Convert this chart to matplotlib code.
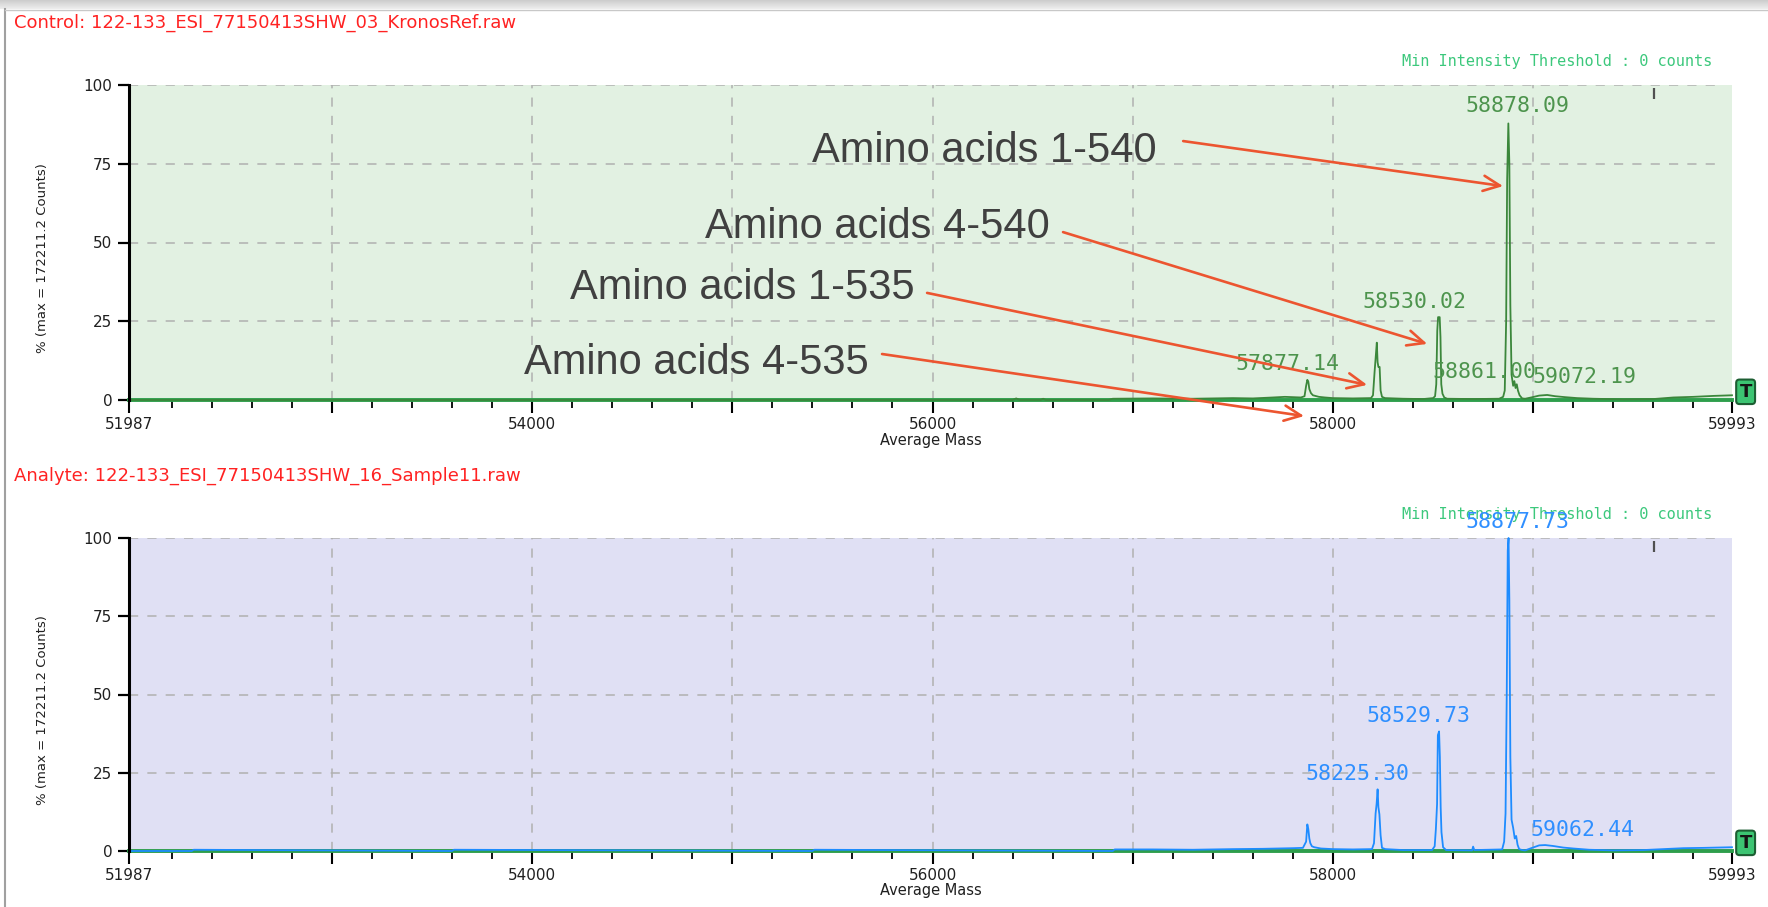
import numpy as np
import matplotlib
matplotlib.use('Agg')
import matplotlib.pyplot as plt
from matplotlib.lines import Line2D
from matplotlib.ticker import FixedLocator

# mass axis range of both panels
xmin, xmax = 51987, 59993
major_ticks = [51987, 53000, 54000, 55000, 56000, 57000, 58000, 59000, 59993]
major_labels = ['51987', '', '54000', '', '56000', '', '58000', '', '59993']
grid_masses = [53000, 54000, 55000, 56000, 57000, 58000, 59000]
y_ticks = [0, 25, 50, 75, 100]

# control spectrum
ctrl_mass = [51987, 56400, 56418, 56436, 56540, 56553, 56566, 56880, 56900, 57100, 57300, 57500,
             57600, 57700, 57760, 57840, 57858, 57866, 57872, 57877, 57882, 57890, 57900, 57930,
             57960, 58000, 58100, 58190, 58200, 58208, 58214, 58219, 58223, 58227, 58233, 58238,
             58245, 58260, 58350, 58450, 58500, 58510, 58516, 58521, 58525, 58533, 58537, 58541,
             58547, 58556, 58570, 58700, 58830, 58850, 58858, 58865, 58870, 58876, 58881, 58886,
             58892, 58900, 58906, 58912, 58918, 58924, 58932, 58945, 58960, 58990, 59030, 59070,
             59110, 59160, 59220, 59300, 59450, 59600, 59700, 59800, 59900, 59993]
ctrl_int = [0, 0, 0.5, 0, 0, 0.4, 0, 0, 0.4, 0.5, 0.4, 0.6,
            0.5, 0.8, 1.0, 0.8, 1.2, 4.5, 6.4, 5.8, 3.5, 2.2, 1.5, 1.0,
            0.8, 0.6, 0.5, 0.6, 1.5, 9.0, 14.0, 18.2, 12.0, 10.5, 10.5, 3.0,
            1.0, 0.6, 0.4, 0.3, 0.6, 1.2, 5.0, 22.0, 26.3, 26.3, 20.0, 5.0,
            2.0, 0.8, 0.4, 0.3, 0.4, 1.0, 3.0, 25.0, 70.0, 87.8, 75.0, 30.0,
            8.0, 4.5, 6.0, 3.8, 5.0, 3.0, 1.5, 0.5, 0.4, 0.8, 1.4, 1.6,
            1.2, 0.9, 0.6, 0.4, 0.2, 0.3, 0.8, 1.0, 1.3, 1.5]

# analyte spectrum
ana_mass = [51987, 52300, 52310, 53600, 53610, 55400, 55410, 56900, 56910, 57100, 57300, 57500,
            57650, 57800, 57850, 57866, 57872, 57877, 57882, 57887, 57895, 57907, 57940, 58000,
            58100, 58195, 58205, 58213, 58218, 58223, 58227, 58232, 58238, 58245, 58262, 58350,
            58495, 58508, 58514, 58520, 58524, 58530, 58534, 58538, 58542, 58550, 58565, 58695,
            58700, 58706, 58845, 58855, 58862, 58868, 58873, 58877, 58881, 58886, 58892, 58900,
            58908, 58915, 58922, 58930, 58945, 58960, 58990, 59030, 59060, 59100, 59150, 59200,
            59280, 59400, 59550, 59650, 59750, 59850, 59993]
ana_int = [0, 0, 0.4, 0, 0.4, 0, 0.4, 0, 0.5, 0.5, 0.4, 0.6,
           0.7, 0.9, 1.0, 3.0, 8.5, 7.0, 4.0, 2.5, 1.5, 1.2, 0.8, 0.6,
           0.5, 0.6, 2.5, 12.0, 15.0, 19.7, 14.0, 11.7, 5.0, 1.0, 0.6, 0.3,
           0.3, 1.5, 7.0, 15.0, 37.0, 38.2, 30.0, 14.0, 6.0, 1.2, 0.3, 0.2,
           1.4, 0.3, 0.5, 3.0, 12.0, 50.0, 96.0, 100.0, 80.0, 30.0, 10.0, 7.4,
           4.0, 4.8, 2.0, 0.6, 0.3, 0.2, 0.9, 1.8, 1.9, 1.6, 1.1, 0.8,
           0.4, 0.2, 0.3, 0.6, 0.9, 1.0, 1.2]

# peak labels
ctrl_peak_text = ['57877.14', '58530.02', '58861.00', '58878.09', '59072.19']
ctrl_peak_x = [57774, 58406, 58755, 58920, 59255]
ctrl_peak_y = [11.4, 31.2, 8.8, 93.2, 7.2]
ana_peak_text = ['58225.30', '58529.73', '58877.73', '59062.44']
ana_peak_x = [58121, 58426, 58920, 59248]
ana_peak_y = [24.5, 43.2, 105.2, 6.8]

# callouts on the control panel
amino_text = ['Amino acids 1-540', 'Amino acids 4-540', 'Amino acids 1-535', 'Amino acids 4-535']
amino_text_xy = [(55399, 75.6), (54864, 51.4), (54190, 32.1), (53960, 8.25)]
amino_start = [(57252, 82.2), (56652, 53.3), (55973, 34.0), (55748, 14.6)]
amino_tip = [(58850, 67.9), (58471, 17.8), (58171, 4.8), (57856, -5.1)]

W, H = 1768, 907
fig = plt.figure(figsize=(W / 100, H / 100), dpi=100)

# window frame
band = fig.add_axes([0, 1 - 9 / H, 1, 9 / H])
band.imshow(np.linspace(0.80, 0.93, 20).reshape(-1, 1), cmap='gray', vmin=0, vmax=1,
            aspect='auto', extent=[0, 1, 0, 1])
band.axis('off')
fig.add_artist(Line2D([5 / W, 5 / W], [0, 1 - 9 / H], color='#a0a0a0', lw=1.5))
fig.add_artist(Line2D([5 / W, 1], [1 - 10 / H, 1 - 10 / H], color='#c8c8c8', lw=1))


def draw_panel(rect, mass, inten, line_col, bg, title, ptext, px, py, pcol):
    ax = fig.add_axes(rect)
    ax.set_facecolor(bg)
    ax.set_xlim(xmin, xmax)
    ax.set_ylim(0, 100)
    for g in grid_masses:
        ax.axvline(g, color='#b0b0b0', lw=1.1, ls=(0, (6, 6)), zorder=1)
    for g in y_ticks[1:]:
        ax.axhline(g, xmax=0.994, color='#b0b0b0', lw=1.1, ls=(0, (6, 6)), zorder=1)
    ax.axhline(0, color='#2e9e4c', lw=2.8, zorder=2, clip_on=False)
    ax.plot(mass, inten, color=line_col, lw=1.3, zorder=3, clip_on=False)
    ax.vlines(59603, 95.5, 99, color='#505050', lw=1.6, zorder=3)

    for s in ['top', 'right', 'bottom']:
        ax.spines[s].set_visible(False)
    ax.spines['left'].set_linewidth(2.2)
    ax.spines['left'].set_zorder(5)

    ax.set_xticks(major_ticks)
    ax.set_xticklabels(major_labels)
    ax.xaxis.set_minor_locator(FixedLocator([m for m in range(52200, xmax, 200) if m % 1000]))
    ax.set_yticks(y_ticks)
    ax.tick_params(axis='x', which='major', length=9, width=1.5, pad=3, labelsize=11,
                   labelcolor='#202020')
    ax.tick_params(axis='x', which='minor', length=6, width=1.3)
    ax.tick_params(axis='y', length=8, width=1.6, pad=4, labelsize=11, labelcolor='#202020')

    ax.set_xlabel('Average Mass', fontsize=10.5, color='#202020', va='center')
    ax.xaxis.set_label_coords(0.5, -0.127)
    ax.set_ylabel('% (max = 172211.2 Counts)', fontsize=9.5, color='#202020', va='center')
    ax.yaxis.set_label_coords(-0.054, 0.45)

    for t, x, y in zip(ptext, px, py):
        ax.text(x, y, t, color=pcol, fontsize=15.5, family='DejaVu Sans Mono',
                ha='center', va='center', zorder=6, clip_on=False)

    ax.text(0.9875, 1.075, 'Min Intensity Threshold : 0 counts', transform=ax.transAxes,
            ha='right', va='center', fontsize=11, family='DejaVu Sans Mono', color='#3cc87c',
            zorder=4)
    ax.text(1.0085, 0.026, 'T', transform=ax.transAxes, ha='center', va='center',
            fontsize=13, fontweight='bold', color='#151515', zorder=10, clip_on=False,
            bbox=dict(boxstyle='round,pad=0.18', fc='#3cc472', ec='#1d5e33', lw=1.5))
    fig.text(14 / W, rect[1] + rect[3] + 62.5 / H, title, color='#ff2222',
             fontsize=13, va='center', ha='left')
    return ax


top = draw_panel([129 / W, 507 / H, 1603 / W, 315 / H], ctrl_mass, ctrl_int, '#3b873b',
                 '#e2f1e2', 'Control: 122-133_ESI_77150413SHW_03_KronosRef.raw',
                 ctrl_peak_text, ctrl_peak_x, ctrl_peak_y, '#4d944d')
bot = draw_panel([129 / W, 56 / H, 1603 / W, 313 / H], ana_mass, ana_int, '#1e8cff',
                 '#e0e0f4', 'Analyte: 122-133_ESI_77150413SHW_16_Sample11.raw',
                 ana_peak_text, ana_peak_x, ana_peak_y, '#2f8fff')

for t, (tx, ty), s, p in zip(amino_text, amino_text_xy, amino_start, amino_tip):
    top.text(tx, ty, t, fontsize=30, family=['Liberation Sans', 'DejaVu Sans'],
             color='#404040', ha='left', va='baseline', zorder=7)
    top.annotate('', xy=p, xytext=s, annotation_clip=False, zorder=7,
                 arrowprops=dict(arrowstyle='->,head_length=1.2,head_width=0.55',
                                 color='#ec5530', lw=1.9, shrinkA=0, shrinkB=0,
                                 mutation_scale=10))

fig.savefig('out.png', dpi=100)
